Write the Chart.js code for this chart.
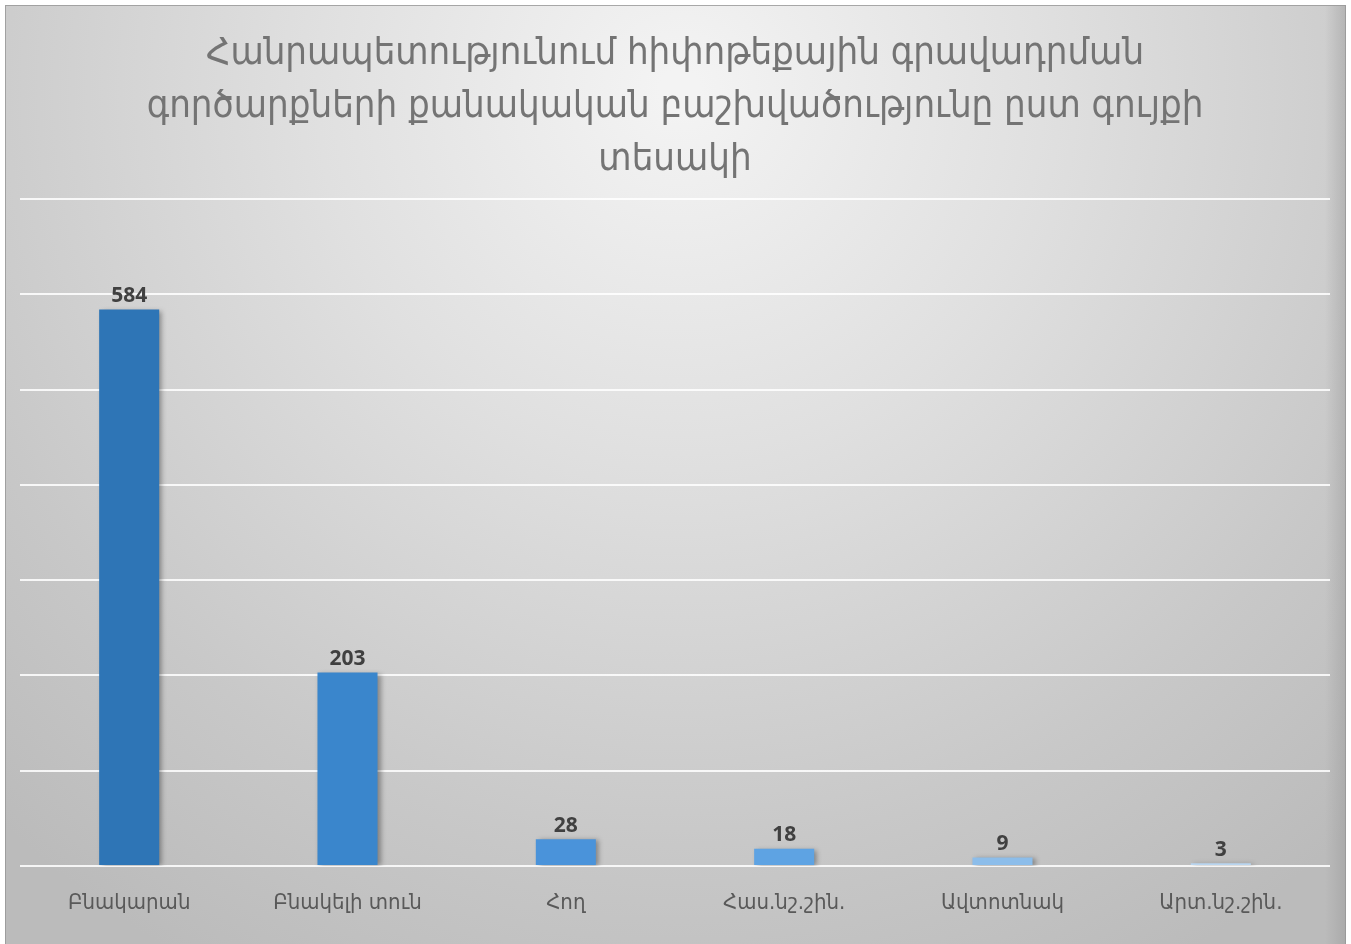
<!DOCTYPE html>
<html>
<head>
<meta charset="utf-8">
<script src="https://cdn.jsdelivr.net/npm/chart.js@4"></script>
<style>
html,body{margin:0;padding:0;background:#fff;}
#wrap{position:absolute;left:0;top:0;width:1351px;height:944px;}
</style>
</head>
<body>
<div id="wrap"><canvas id="c" width="1351" height="944"></canvas></div>
<script>
const titleLines = [
  "Հանրապետությունում հիփոթեքային գրավադրման",
  "գործարքների քանակական բաշխվածությունը ըստ գույքի",
  "տեսակի"
];
const categories = ["Բնակարան", "Բնակելի տուն", "Հող", "Հաս.նշ.շին.", "Ավտոտնակ", "Արտ.նշ.շին."];
const values = [584, 203, 28, 18, 9, 3];
const barColors = ["#2e75b6", "#3a86cc", "#4a93da", "#5ea3e3", "#8cbdea", "#b9d5ef"];
const yMax = 700;
const yStep = 100;

const bgPlugin = {
  id: 'bg',
  beforeDraw(chart) {
    const ctx = chart.ctx;
    ctx.save();
    ctx.fillStyle = '#ffffff';
    ctx.fillRect(0, 0, chart.width, chart.height);
    const x0 = 5, y0 = 5, x1 = 1346, y1 = 944;
    const g = ctx.createRadialGradient(680, 90, 20, 680, 90, 1000);
    g.addColorStop(0, '#f3f3f3');
    g.addColorStop(0.35, '#e0e0e0');
    g.addColorStop(0.75, '#c8c8c8');
    g.addColorStop(1, '#bbbbbb');
    ctx.fillStyle = g;
    ctx.fillRect(x0, y0, x1 - x0, y1 - y0);
    const side = ctx.createLinearGradient(1325, 0, 1346, 0);
    side.addColorStop(0, 'rgba(150,150,150,0)');
    side.addColorStop(1, 'rgba(150,150,150,0.45)');
    ctx.fillStyle = side;
    ctx.fillRect(1325, y0, 21, y1 - y0);
    ctx.strokeStyle = 'rgba(150,150,150,0.8)';
    ctx.lineWidth = 1;
    ctx.strokeRect(x0 + 0.5, y0 + 0.5, x1 - x0 - 1, y1 - y0);
    ctx.restore();
  }
};

const shadowPlugin = {
  id: 'barShadow',
  beforeDatasetDraw(chart) {
    const ctx = chart.ctx;
    ctx.save();
    ctx.shadowColor = 'rgba(0,0,0,0.35)';
    ctx.shadowBlur = 5;
    ctx.shadowOffsetX = 3;
    ctx.shadowOffsetY = 1;
  },
  afterDatasetDraw(chart) {
    chart.ctx.restore();
  }
};

const labelPlugin = {
  id: 'valueLabels',
  afterDatasetsDraw(chart) {
    const ctx = chart.ctx;
    const meta = chart.getDatasetMeta(0);
    ctx.save();
    ctx.font = 'bold 21px "Open Sans", "DejaVu Sans", sans-serif';
    ctx.fillStyle = '#404040';
    ctx.textAlign = 'center';
    ctx.textBaseline = 'bottom';
    meta.data.forEach((bar, i) => {
      ctx.fillText(String(values[i]), bar.x, bar.y - 3);
    });
    ctx.restore();
  }
};

new Chart(document.getElementById('c'), {
  type: 'bar',
  data: {
    labels: categories,
    datasets: [{
      data: values,
      backgroundColor: barColors,
      borderWidth: 0,
      barPercentage: 0.55,
      categoryPercentage: 0.5
    }]
  },
  options: {
    responsive: false,
    animation: false,
    devicePixelRatio: 1,
    layout: { padding: { left: 20, right: 21, top: 28, bottom: 0 } },
    plugins: {
      legend: { display: false },
      tooltip: { enabled: false },
      title: {
        display: true,
        text: titleLines,
        color: '#747474',
        font: { family: '"DejaVu Sans Condensed", "DejaVu Sans", sans-serif', size: 38, weight: 'normal', lineHeight: 1.395 },
        padding: { top: 0, bottom: 12 }
      }
    },
    scales: {
      x: {
        grid: { display: false },
        border: { display: false },
        ticks: {
          color: '#595959',
          font: { family: '"DejaVu Sans Condensed", "DejaVu Sans", sans-serif', size: 22 },
          padding: 16
        },
        afterFit(scale) { scale.height = 78; }
      },
      y: {
        min: 0,
        max: yMax,
        ticks: { display: false, stepSize: yStep },
        border: { display: false },
        grid: { color: 'rgba(255,255,255,0.85)', lineWidth: 2, drawTicks: false },
        afterFit(scale) { scale.width = 0; }
      }
    }
  },
  plugins: [bgPlugin, shadowPlugin, labelPlugin]
});
</script>
</body>
</html>
